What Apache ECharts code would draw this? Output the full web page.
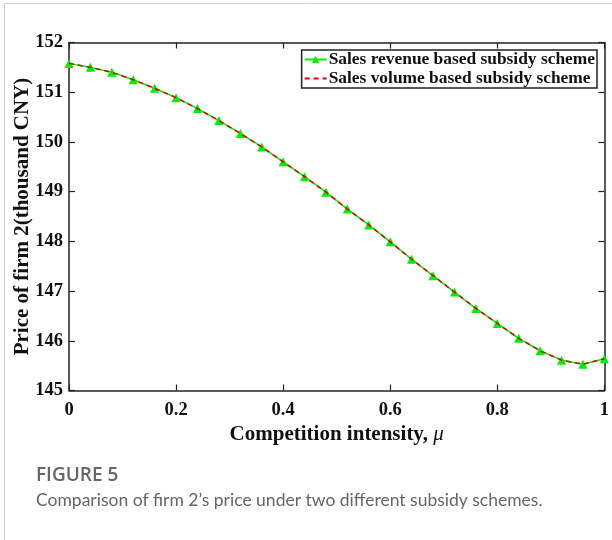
<!DOCTYPE html>
<html>
<head>
<meta charset="utf-8">
<script src="https://cdn.jsdelivr.net/npm/echarts@6/dist/echarts.min.js"></script>
<style>
  html, body { margin: 0; padding: 0; background: #fff; }
  #chart { width: 612px; height: 540px; }
</style>
</head>
<body>
<div id="chart"></div>
<script>
// competition intensity mu
const muValues = [0, 0.04, 0.08, 0.12, 0.16, 0.2, 0.24, 0.28, 0.32, 0.36, 0.4, 0.44, 0.48,
  0.52, 0.56, 0.6, 0.64, 0.68, 0.72, 0.76, 0.8, 0.84, 0.88, 0.92, 0.96, 1];
// price of firm 2, sales revenue based subsidy
const revenuePrice = [151.58, 151.50, 151.40, 151.25, 151.08, 150.89, 150.67, 150.43, 150.17,
  149.90, 149.60, 149.30, 148.99, 148.65, 148.33, 147.99, 147.64, 147.31, 146.98, 146.65,
  146.35, 146.05, 145.80, 145.61, 145.53, 145.64];
// price of firm 2, sales volume based subsidy
const volumePrice = [151.58, 151.50, 151.40, 151.25, 151.08, 150.89, 150.67, 150.43, 150.17,
  149.90, 149.60, 149.30, 148.99, 148.65, 148.33, 147.99, 147.64, 147.31, 146.98, 146.65,
  146.35, 146.05, 145.80, 145.61, 145.53, 145.64];
const seriesNames = ['Sales revenue based subsidy scheme', 'Sales volume based subsidy scheme'];

const serif = '"Liberation Serif", "Times New Roman", serif';
const axisColor = '#222';

const chart = echarts.init(document.getElementById('chart'));

// frame pieces shared by the four sides
const boxAxis = {
  axisLine: { show: true, onZero: false, lineStyle: { color: axisColor, width: 1.5 } },
  axisTick: { show: true, inside: true, length: 6, lineStyle: { color: axisColor, width: 1.2 } },
  splitLine: { show: false }
};

chart.setOption({
  animation: false,
  backgroundColor: '#fff',
  grid: { left: 69, right: 7, top: 42.5, bottom: 149.5 },
  legend: {
    orient: 'vertical',
    right: 15,
    top: 50,
    itemWidth: 22,
    itemHeight: 9,
    itemGap: 2,
    padding: [1, 2, 1, 2],
    borderColor: axisColor,
    borderWidth: 1.5,
    backgroundColor: '#fff',
    textStyle: { fontFamily: serif, fontWeight: 'bold', fontSize: 17.4, color: '#111', padding: [0, 0, 0, -3] },
    data: [
      { name: seriesNames[0] },
      { name: seriesNames[1], itemStyle: { opacity: 0 } }
    ]
  },
  xAxis: [
    Object.assign({}, boxAxis, {
      type: 'value',
      min: 0,
      max: 1,
      interval: 0.2,
      position: 'bottom',
      name: '{b|Competition intensity, }{i|μ}',
      nameLocation: 'middle',
      nameGap: 30,
      nameTextStyle: {
        rich: {
          b: { fontFamily: serif, fontWeight: 'bold', fontSize: 21, color: '#111' },
          i: { fontFamily: serif, fontStyle: 'italic', fontSize: 21, color: '#111' }
        }
      },
      axisLabel: {
        fontFamily: serif, fontWeight: 'bold', fontSize: 18.5, color: '#111', margin: 10,
        formatter: v => String(Math.round(v * 10) / 10)
      }
    }),
    Object.assign({}, boxAxis, {
      type: 'value', min: 0, max: 1, interval: 0.2, position: 'top',
      axisLabel: { show: false }
    })
  ],
  yAxis: [
    Object.assign({}, boxAxis, {
      type: 'value',
      min: 145,
      max: 152,
      interval: 1,
      position: 'left',
      name: 'Price of firm 2(thousand CNY)',
      nameLocation: 'middle',
      nameGap: 36,
      nameMoveOverlap: false,
      nameTextStyle: { fontFamily: serif, fontWeight: 'bold', fontSize: 21, color: '#111' },
      axisLabel: { fontFamily: serif, fontWeight: 'bold', fontSize: 18.5, color: '#111', margin: 6 }
    }),
    Object.assign({}, boxAxis, {
      type: 'value', min: 145, max: 152, interval: 1, position: 'right',
      axisLabel: { show: false }
    })
  ],
  series: [
    {
      name: seriesNames[0],
      type: 'line',
      data: muValues.map((m, i) => [m, revenuePrice[i]]),
      symbol: 'triangle',
      symbolSize: 9,
      showAllSymbol: true,
      itemStyle: { color: '#00ee00' },
      lineStyle: { color: '#00ee00', width: 1.5 },
      z: 2
    },
    {
      name: seriesNames[1],
      type: 'line',
      data: muValues.map((m, i) => [m, volumePrice[i]]),
      symbol: 'none',
      itemStyle: { color: '#e00000' },
      lineStyle: { color: '#e00000', width: 1.5, type: [5, 4] },
      z: 3
    }
  ],
  graphic: [
    // light card border on the left and top edges
    { type: 'line', shape: { x1: 4.5, y1: 3.5, x2: 4.5, y2: 540 }, style: { stroke: '#cfcfcf', lineWidth: 1 } },
    { type: 'line', shape: { x1: 4.5, y1: 3.5, x2: 612, y2: 3.5 }, style: { stroke: '#cfcfcf', lineWidth: 1 } },
    {
      type: 'text', left: 36, top: 466,
      style: { text: 'FIGURE 5', fontFamily: '"Open Sans", sans-serif', fontWeight: 600, fontSize: 19, fill: '#666' }
    },
    {
      type: 'text', left: 36, top: 491,
      style: {
        text: 'Comparison of firm 2\u2019s price under two different subsidy schemes.',
        fontFamily: 'Lato, "Open Sans", sans-serif', fontSize: 17.5, fill: '#666'
      }
    }
  ]
});
</script>
</body>
</html>
